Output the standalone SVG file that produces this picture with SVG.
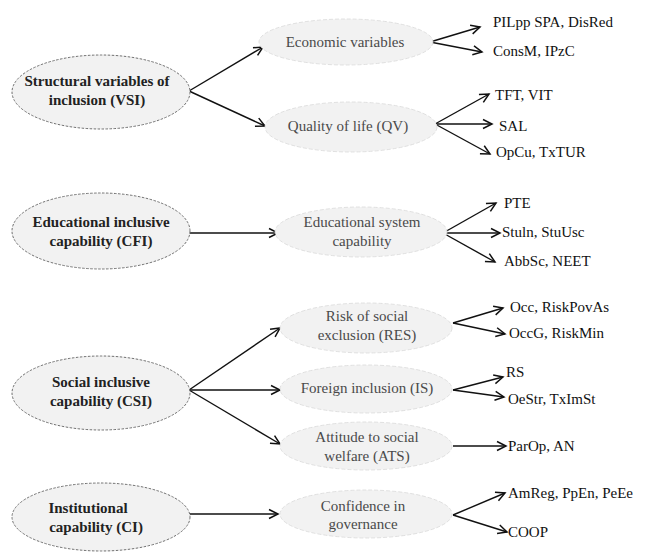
<svg xmlns="http://www.w3.org/2000/svg" width="646" height="552" viewBox="0 0 646 552">
<style>
.outer{fill:#f2f2f2;stroke:#707070;stroke-width:1;stroke-dasharray:2.5,1.5}
.inner{fill:#f2f2f2;stroke:#d9d9d9;stroke-width:0.8;stroke-dasharray:4,2}
text{font-family:'Liberation Serif','Times New Roman',Tinos,'DejaVu Serif',serif;font-size:15px}
.bt{font-weight:bold;fill:#222;text-anchor:middle}
.mt{fill:#4a4a4a;text-anchor:middle}
.rt{fill:#111}
.c line{stroke:#111;stroke-width:1.4;marker-end:url(#ah)}
</style>
<defs>
<marker id="ah" markerWidth="12" markerHeight="12" refX="10" refY="6" orient="auto" markerUnits="userSpaceOnUse">
<path d="M1,1.5 L10,6 L1,10.5" fill="none" stroke="#111" stroke-width="1.5"/>
</marker>
</defs>
<rect width="646" height="552" fill="#fff"/>
<g class="c" id="connectors">
<line x1="189" y1="91" x2="263" y2="47"/>
<line x1="189" y1="91" x2="265" y2="126"/>
<line x1="430" y1="42" x2="480" y2="27"/>
<line x1="430" y1="42" x2="482" y2="52"/>
<line x1="435" y1="124" x2="489" y2="94"/>
<line x1="435" y1="124" x2="492" y2="124"/>
<line x1="435" y1="124" x2="490" y2="154"/>
<line x1="189" y1="233" x2="278" y2="233"/>
<line x1="443" y1="233" x2="496" y2="203"/>
<line x1="443" y1="233" x2="500" y2="233"/>
<line x1="443" y1="233" x2="495" y2="262"/>
<line x1="189" y1="390" x2="280" y2="328"/>
<line x1="189" y1="390" x2="280" y2="390"/>
<line x1="189" y1="390" x2="280" y2="444"/>
<line x1="453" y1="323" x2="503" y2="308"/>
<line x1="453" y1="323" x2="505" y2="334"/>
<line x1="453" y1="390" x2="503" y2="377"/>
<line x1="453" y1="390" x2="504" y2="397"/>
<line x1="453" y1="446" x2="506" y2="446"/>
<line x1="190" y1="514" x2="278" y2="514"/>
<line x1="453" y1="515" x2="505" y2="493"/>
<line x1="453" y1="515" x2="507" y2="532"/>
</g>
<g id="vsi"><ellipse class="outer" cx="101" cy="92" rx="89" ry="37"/><text class="bt" x="97" y="86">Structural variables of</text><text class="bt" x="97" y="105">inclusion (VSI)</text></g>
<g id="cfi"><ellipse class="outer" cx="101" cy="231" rx="89" ry="38"/><text class="bt" x="101" y="227">Educational inclusive</text><text class="bt" x="101" y="246">capability (CFI)</text></g>
<g id="csi"><ellipse class="outer" cx="101" cy="393" rx="89" ry="37"/><text class="bt" x="101" y="387">Social inclusive</text><text class="bt" x="101" y="406">capability (CSI)</text></g>
<g id="ci"><ellipse class="outer" cx="101" cy="517" rx="89" ry="34"/><text class="bt" x="88" y="513">Institutional</text><text class="bt" x="96" y="532">capability (CI)</text></g>
<g id="econ"><ellipse class="inner" cx="346" cy="42" rx="87" ry="23"/><text class="mt" x="345" y="47">Economic variables</text></g>
<g id="qv"><ellipse class="inner" cx="351" cy="127" rx="86" ry="25"/><text class="mt" x="348" y="131">Quality of life (QV)</text></g>
<g id="edu"><ellipse class="inner" cx="361" cy="232" rx="86" ry="25"/><text class="mt" x="362" y="227">Educational system</text><text class="mt" x="362" y="246">capability</text></g>
<g id="res"><ellipse class="inner" cx="366" cy="328" rx="86" ry="25"/><text class="mt" x="367" y="321">Risk of social</text><text class="mt" x="367" y="340">exclusion (RES)</text></g>
<g id="is"><ellipse class="inner" cx="366" cy="389" rx="86" ry="24"/><text class="mt" x="367" y="393">Foreign inclusion (IS)</text></g>
<g id="ats"><ellipse class="inner" cx="366" cy="446" rx="86" ry="24"/><text class="mt" x="367" y="442">Attitude to social</text><text class="mt" x="367" y="461">welfare (ATS)</text></g>
<g id="cig"><ellipse class="inner" cx="366" cy="514" rx="86" ry="24"/><text class="mt" x="363" y="511">Confidence in</text><text class="mt" x="363" y="529">governance</text></g>
<g id="leaves">
<text class="rt" x="493" y="27">PILpp SPA, DisRed</text>
<text class="rt" x="493" y="56">ConsM, IPzC</text>
<text class="rt" x="495" y="100">TFT, VIT</text>
<text class="rt" x="499" y="131">SAL</text>
<text class="rt" x="496" y="157">OpCu, TxTUR</text>
<text class="rt" x="504" y="208">PTE</text>
<text class="rt" x="502" y="237">Stuln, StuUsc</text>
<text class="rt" x="504" y="266">AbbSc, NEET</text>
<text class="rt" x="510" y="312">Occ, RiskPovAs</text>
<text class="rt" x="509" y="338">OccG, RiskMin</text>
<text class="rt" x="506" y="377">RS</text>
<text class="rt" x="508" y="404">OeStr, TxImSt</text>
<text class="rt" x="508" y="451">ParOp, AN</text>
<text class="rt" x="508" y="498">AmReg, PpEn, PeEe</text>
<text class="rt" x="508" y="537">COOP</text>
</g>
</svg>
